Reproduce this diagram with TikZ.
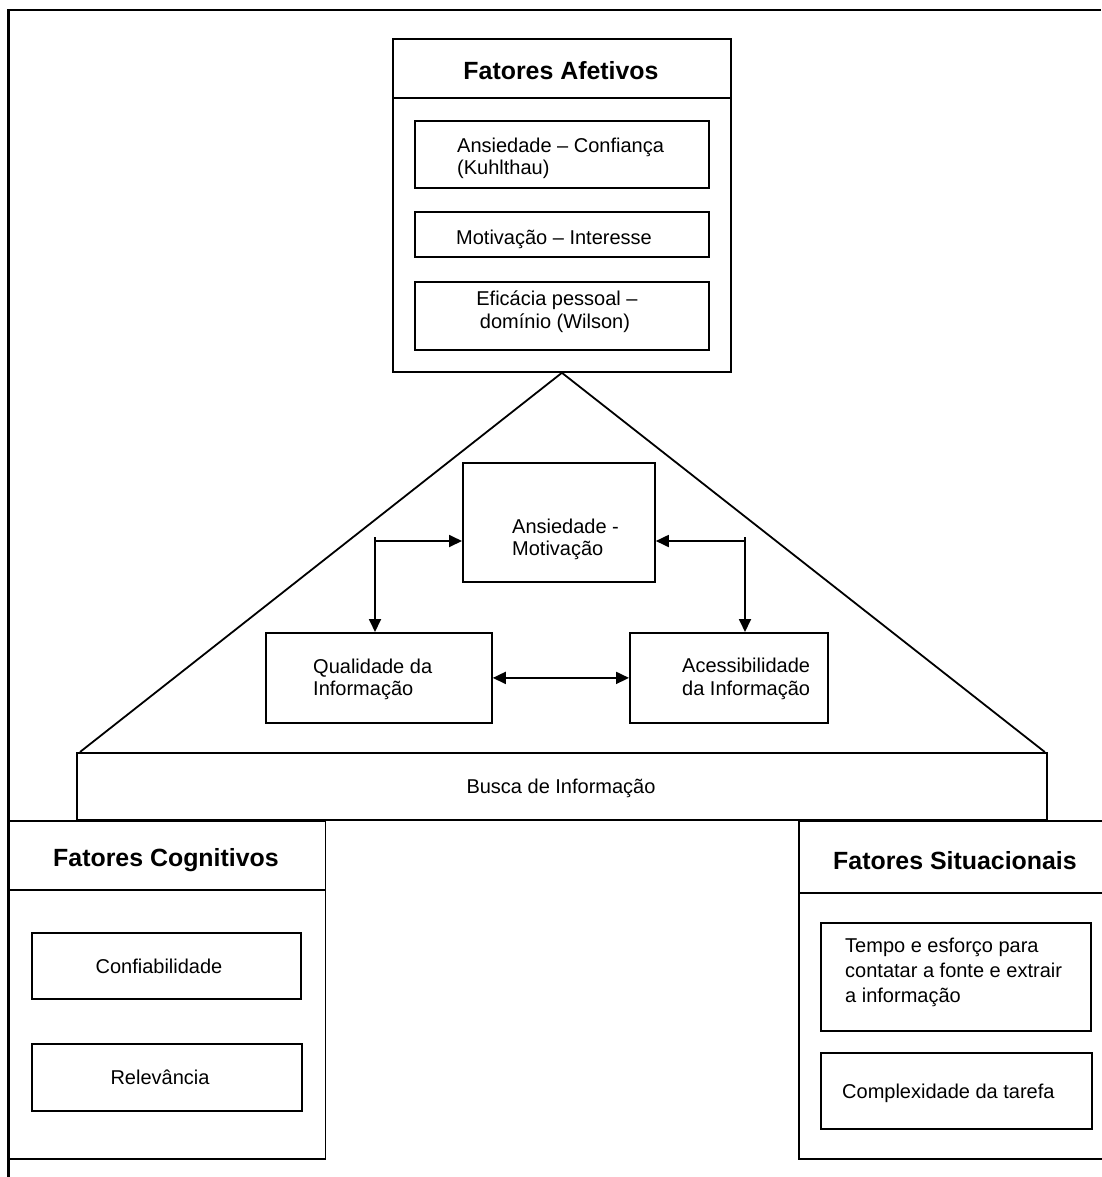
\documentclass[tikz,border=0pt]{standalone}
\usepackage{fontspec}
\setmainfont{Liberation Sans}
\usetikzlibrary{arrows.meta}
\tikzset{
  box/.style={draw, line width=1.8pt, inner sep=0pt, anchor=north west},
  txt/.style={inner sep=0pt, font=\fontsize{20}{23}\selectfont},
  hdr/.style={inner sep=0pt, anchor=base, font=\fontsize{24.9}{28}\selectfont\bfseries},
  conn/.style={line width=1.8pt, {Triangle[length=13pt,width=12pt]}-{Triangle[length=13pt,width=12pt]}},
  plain/.style={line width=1.8pt},
  frame/.style={line width=2.6pt}
}
\begin{document}
\begin{tikzpicture}[x=1pt,y=-1pt]
\useasboundingbox (0,0) rectangle (1101,1177);
% outer frame
\coordinate (fbl) at (8.5,1177);
\coordinate (ftl) at (8.5,10);
\coordinate (ftr) at (1101,10);
\draw[frame] (fbl) -- (ftl) -- (ftr);

% Fatores Afetivos
\node[box, minimum width=338pt, minimum height=333pt] (afet) at (392,38) {};
\draw[plain] ([yshift=-60pt]afet.north west) -- ([yshift=-60pt]afet.north east);
\node[hdr] (afetT) at (561,80) {Fatores Afetivos};
\node[box, minimum width=294pt, minimum height=67pt] (a1) at (414,120) {};
\node[txt, anchor=base west] (a1t1) at (457,153) {Ansiedade – Confiança};
\node[txt, anchor=base west] (a1t2) at (457,175) {(Kuhlthau)};
\node[box, minimum width=294pt, minimum height=45pt] (a2) at (414,211) {};
\node[txt, anchor=base west] (a2t) at (456,244) {Motivação – Interesse};
\node[box, minimum width=294pt, minimum height=68pt] (a3) at (414,281) {};
\node[txt, anchor=base] (a3t1) at (557,305) {Eficácia pessoal –};
\node[txt, anchor=base] (a3t2) at (555,328) {domínio (Wilson)};

% Busca
\node[box, minimum width=970pt, minimum height=67pt] (busca) at (76,752) {};
\node[txt, anchor=base] (buscaT) at (561,793) {Busca de Informação};

% triangle
\draw[plain] ([xshift=4pt]busca.north west) -- (afet.south) -- ([xshift=-3pt]busca.north east);

% middle boxes
\node[box, minimum width=192pt, minimum height=119pt] (am) at (462,462) {};
\node[txt, anchor=base west] (amt1) at (512,533) {Ansiedade -};
\node[txt, anchor=base west] (amt2) at (512,555) {Motivação};
\node[box, minimum width=226pt, minimum height=90pt] (qual) at (265,632) {};
\node[txt, anchor=base west] (qt1) at (313,673) {Qualidade da};
\node[txt, anchor=base west] (qt2) at (313,695) {Informação};
\node[box, minimum width=198pt, minimum height=90pt] (acess) at (629,632) {};
\node[txt, anchor=base west] (act1) at (682,672) {Acessibilidade};
\node[txt, anchor=base west] (act2) at (682,695) {da Informação};

% connectors
\coordinate (tl) at (375,541);
\coordinate (tr) at (745,541);
\draw[conn] (tl |- qual.north) -- (tl) -- (tl -| am.west);
\draw[plain] (tl) -- ++(0,-4);
\draw[conn] (tr -| am.east) -- (tr) -- (tr |- acess.north);
\draw[plain] (tr) -- ++(0,-4);
\draw[conn] (qual.east) -- (acess.west);

% Fatores Cognitivos
\node[box, minimum width=316pt, minimum height=338pt] (cog) at (8.5,820) {};
\draw[plain] ([yshift=-70pt]cog.north west) -- ([yshift=-70pt]cog.north east);
\node[hdr] (cogT) at (166,866) {Fatores Cognitivos};
\node[box, minimum width=269pt, minimum height=66pt] (c1) at (31,932) {};
\node[txt, anchor=base] (c1t) at (159,973) {Confiabilidade};
\node[box, minimum width=270pt, minimum height=67pt] (c2) at (31,1043) {};
\node[txt, anchor=base] (c2t) at (160,1084) {Relevância};

% Fatores Situacionais
\node[box, minimum width=330pt, minimum height=338pt] (sit) at (798,820) {};
\draw[plain] ([yshift=-73pt]sit.north west) -- ([yshift=-73pt]sit.north east);
\node[hdr] (sitT) at (955,869) {Fatores Situacionais};
\node[box, minimum width=270pt, minimum height=108pt] (s1) at (820,922) {};
\node[txt, anchor=base west] (s1t1) at (845,952) {Tempo e esforço para};
\node[txt, anchor=base west] (s1t2) at (845,977) {contatar a fonte e extrair};
\node[txt, anchor=base west] (s1t3) at (845,1002) {a informação};
\node[box, minimum width=271pt, minimum height=76pt] (s2) at (820,1052) {};
\node[txt, anchor=base west] (s2t) at (842,1098) {Complexidade da tarefa};
\end{tikzpicture}
\end{document}
